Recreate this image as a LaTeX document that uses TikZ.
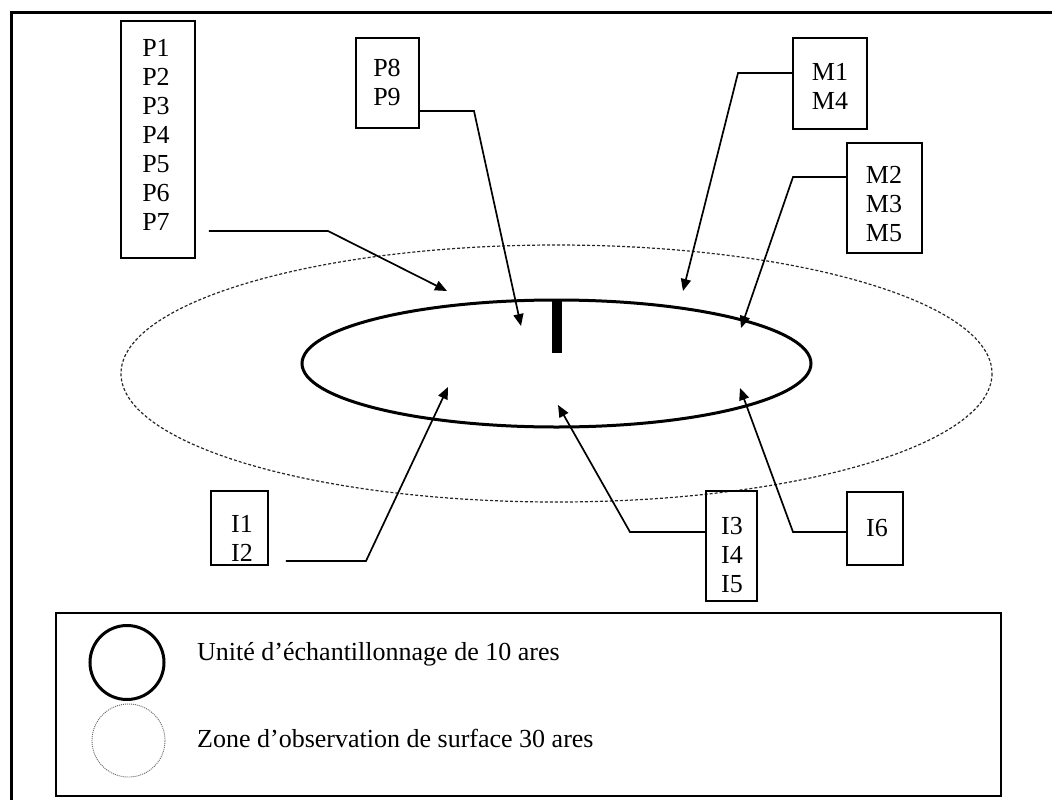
\documentclass[tikz,border=0pt]{standalone}
\usepackage{fontspec}
\setmainfont{Liberation Serif}
\usetikzlibrary{arrows.meta}
\tikzset{
  box/.style={draw, line width=1.7pt, inner sep=0pt, minimum width=#1},
  txt/.style={inner sep=0pt, align=center, font=\fontsize{26}{29}\selectfont},
  conn/.style={line width=1.7pt, -{Triangle[length=12pt,width=10pt]}},
  frame/.style={line width=3pt},
  zone/.style={line width=1.2pt, black!85, dash pattern=on 3pt off 2pt},
  unit/.style={line width=3pt},
}
\begin{document}
\begin{tikzpicture}[x=1pt, y=-1pt]
\path[use as bounding box] (0,0) rectangle (1052,800);
\clip (0,0) rectangle (1052,800);

% outer frame
\draw[frame] (11,13) rectangle (1080,830);

% observation zone (30 ares) and sampling unit (10 ares)
\draw[zone] (556.5,373.5) ellipse [x radius=435.5, y radius=128.5];
\draw[unit] (556.5,363.5) ellipse [x radius=254.5, y radius=63.5];

% central stake
\node[fill=black, inner sep=0pt, minimum width=10pt, minimum height=54pt] (stake) at (557,326) {};

% label boxes
\node[box=74pt, minimum height=237pt] (P) at (158,139.5) {};
\node[txt] (Pt) at (156,135) {P1\\P2\\P3\\P4\\P5\\P6\\P7};

\node[box=63pt, minimum height=90pt] (P8) at (387.5,83) {};
\node[txt] (P8t) at (387,82.5) {P8\\P9};

\node[box=74pt, minimum height=91pt] (M1) at (830,83.5) {};
\node[txt] (M1t) at (830,86) {M1\\M4};

\node[box=75pt, minimum height=110pt] (M2) at (884.5,198) {};
\node[txt] (M2t) at (884,204) {M2\\M3\\M5};

\node[box=57pt, minimum height=74pt] (I1) at (239.5,528) {};
\node[txt] (I1t) at (242,538) {I1\\I2};

\node[box=51pt, minimum height=110pt] (I3) at (731.5,546) {};
\node[txt] (I3t) at (732,555) {I3\\I4\\I5};

\node[box=56pt, minimum height=73pt] (I6) at (875,528.5) {};
\node[txt] (I6t) at (877,528) {I6};

% connector bends and arrow targets
\coordinate (kP) at (328,231);   \coordinate (tP) at (447,291);
\coordinate (kP8) at (474,111);  \coordinate (tP8) at (521,326);
\coordinate (kM1) at (738,73);   \coordinate (tM1) at (683,291);
\coordinate (kM2) at (793,177);  \coordinate (tM2) at (741,328);
\coordinate (kI1) at (366,561);  \coordinate (tI1) at (448,387);
\coordinate (kI3) at (630,532);  \coordinate (tI3) at (558,405);
\coordinate (kI6) at (793,532);  \coordinate (tI6) at (740,388);

% connectors
\draw[conn, shorten <=13pt] (P.east |- kP) -- (kP) -- (tP);
\draw[conn] (P8.east |- kP8) -- (kP8) -- (tP8);
\draw[conn] (M1.west |- kM1) -- (kM1) -- (tM1);
\draw[conn] (M2.west |- kM2) -- (kM2) -- (tM2);
\draw[conn, shorten <=17pt] (I1.east |- kI1) -- (kI1) -- (tI1);
\draw[conn] (I3.west |- kI3) -- (kI3) -- (tI3);
\draw[conn] (I6.west |- kI6) -- (kI6) -- (tI6);

% legend
\node[draw, line width=2.6pt, inner sep=0pt, minimum width=945pt, minimum height=183pt] (legend) at (528.5,704.5) {};
\node[draw, circle, unit, inner sep=0pt, minimum size=74pt] (unitsym) at (127,662.5) {};
\node[draw, circle, line width=0.9pt, black!60, dash pattern=on 1pt off 1pt, inner sep=0pt, minimum size=73pt] (zonesym) at (128.5,740.5) {};
\node[txt, anchor=base west] (unitlbl) at (197,660) {Unité d’échantillonnage de 10 ares};
\node[txt, anchor=base west] (zonelbl) at (197,747) {Zone d’observation de surface 30 ares};
\end{tikzpicture}
\end{document}
